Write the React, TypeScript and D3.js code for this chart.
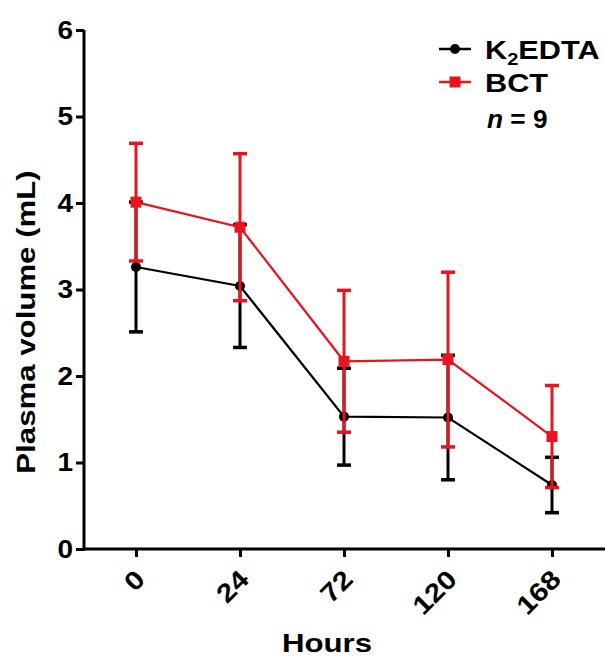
import React, { useEffect, useRef } from 'react';
import * as d3 from 'd3';

const hours = ['0', '24', '72', '120', '168'];
const edtaMean = [3.26, 3.04, 1.53, 1.52, 0.74];
const edtaSd = [0.75, 0.71, 0.56, 0.72, 0.32];
const bctMean = [4.01, 3.72, 2.17, 2.19, 1.3];
const bctSd = [0.68, 0.85, 0.82, 1.01, 0.59];
const yTicks = [0, 1, 2, 3, 4, 5, 6];

// the source font is a bit wider than Arial, so stretch the glyphs
const stretch = (sel: any, k: number) => {
  sel.each(function (this: SVGTextElement) {
    const w = this.getComputedTextLength();
    d3.select(this).attr('textLength', w * k).attr('lengthAdjust', 'spacingAndGlyphs');
  });
};

const App = () => {
  const ref = useRef<SVGSVGElement>(null);

  useEffect(() => {
    const svg = d3.select(ref.current);
    svg.selectAll('*').remove();
    const font = '"Liberation Sans", Arial, sans-serif';

    const x = d3.scalePoint().domain(hours).range([136, 552]);
    const y = d3.scaleLinear().domain([0, 6]).range([549, 30]);

    // axes
    const yAxis = svg.append('g').attr('transform', 'translate(84,0)')
      .call(d3.axisLeft(y).tickValues(yTicks).tickSize(8).tickPadding(3).tickFormat(d3.format('d')));
    yAxis.select('.domain').attr('stroke-width', 3).attr('d', `M0,${y(6)}V${y(0) + 1.5}`);
    yAxis.selectAll('.tick line').attr('stroke-width', 3);
    const yt = yAxis.selectAll('.tick text').attr('font-size', 25).attr('font-weight', 'bold').attr('font-family', font).attr('fill', '#000');
    stretch(yt, 1.12);

    const xAxis = svg.append('g').attr('transform', 'translate(0,549)')
      .call(d3.axisBottom(x).tickSize(8).tickPadding(0));
    xAxis.select('.domain').attr('stroke-width', 3).attr('d', 'M84,0H605');
    xAxis.selectAll('.tick line').attr('stroke-width', 3);
    const xt = xAxis.selectAll('.tick text')
      .attr('font-size', 26).attr('font-weight', 'bold').attr('font-family', font).attr('fill', '#000')
      .attr('text-anchor', 'end').attr('dy', null).attr('y', null)
      .attr('transform', 'translate(10,32) rotate(-45)');
    stretch(xt, 1.15);

    const hoursLabel = svg.append('text').attr('x', 327).attr('y', 652).attr('text-anchor', 'middle')
      .attr('font-size', 26).attr('font-weight', 'bold').attr('font-family', font).text('Hours');
    stretch(hoursLabel, 1.2);
    const yLabel = svg.append('text').attr('transform', 'translate(35,322) rotate(-90)').attr('text-anchor', 'middle')
      .attr('font-size', 26).attr('font-weight', 'bold').attr('font-family', font).text('Plasma volume (mL)');
    stretch(yLabel, 1.2);

    const series = [
      { mean: edtaMean, sd: edtaSd, color: '#000', shape: 'circle' },
      { mean: bctMean, sd: bctSd, color: '#e8141f', shape: 'square' },
    ];

    series.forEach(s => {
      const g = svg.append('g');
      const line = d3.line<number>().x((_, i) => x(hours[i])!).y(d => y(d));
      g.append('path').attr('d', line(s.mean)).attr('fill', 'none').attr('stroke', s.color).attr('stroke-width', 2.2);
      s.mean.forEach((m, i) => {
        const cx = x(hours[i])!;
        const lo = y(m - s.sd[i]);
        const hi = y(m + s.sd[i]);
        g.append('line').attr('x1', cx).attr('x2', cx).attr('y1', lo).attr('y2', hi).attr('stroke', s.color).attr('stroke-width', 3);
        [lo, hi].forEach(yy => g.append('line').attr('x1', cx - 7).attr('x2', cx + 7).attr('y1', yy).attr('y2', yy)
          .attr('stroke', s.color).attr('stroke-width', 3.5));
        if (s.shape === 'circle') {
          g.append('circle').attr('cx', cx).attr('cy', y(m)).attr('r', 5).attr('fill', s.color);
        } else {
          g.append('rect').attr('x', cx - 5.5).attr('y', y(m) - 5.5).attr('width', 11).attr('height', 11).attr('fill', s.color);
        }
      });
    });

    // legend
    const lg = svg.append('g');
    lg.append('line').attr('x1', 439).attr('x2', 471).attr('y1', 49).attr('y2', 49).attr('stroke', '#000').attr('stroke-width', 2.5);
    lg.append('circle').attr('cx', 455).attr('cy', 49).attr('r', 5).attr('fill', '#000');
    const t1 = lg.append('text').attr('x', 485).attr('y', 59).attr('font-size', 26).attr('font-weight', 'bold').attr('font-family', font);
    t1.append('tspan').text('K');
    t1.append('tspan').attr('font-size', 17).attr('dy', 6).text('2');
    t1.append('tspan').attr('dy', -6).text('EDTA');
    stretch(t1, 1.18);
    lg.append('line').attr('x1', 439).attr('x2', 471).attr('y1', 82).attr('y2', 82).attr('stroke', '#e8141f').attr('stroke-width', 2.5);
    lg.append('rect').attr('x', 449.5).attr('y', 76.5).attr('width', 11).attr('height', 11).attr('fill', '#e8141f');
    const t2 = lg.append('text').attr('x', 485).attr('y', 92).attr('font-size', 26).attr('font-weight', 'bold').attr('font-family', font).text('BCT');
    stretch(t2, 1.18);
    const t3 = lg.append('text').attr('x', 487).attr('y', 128).attr('font-size', 25).attr('font-weight', 'bold').attr('font-family', font);
    t3.append('tspan').attr('font-style', 'italic').text('n');
    t3.append('tspan').text(' = 9');
    stretch(t3, 1.05);
  }, []);

  return <svg ref={ref} width={605} height={657} style={{ position: 'absolute', left: 0, top: 0, background: '#fff' }} />;
};

export default App;
